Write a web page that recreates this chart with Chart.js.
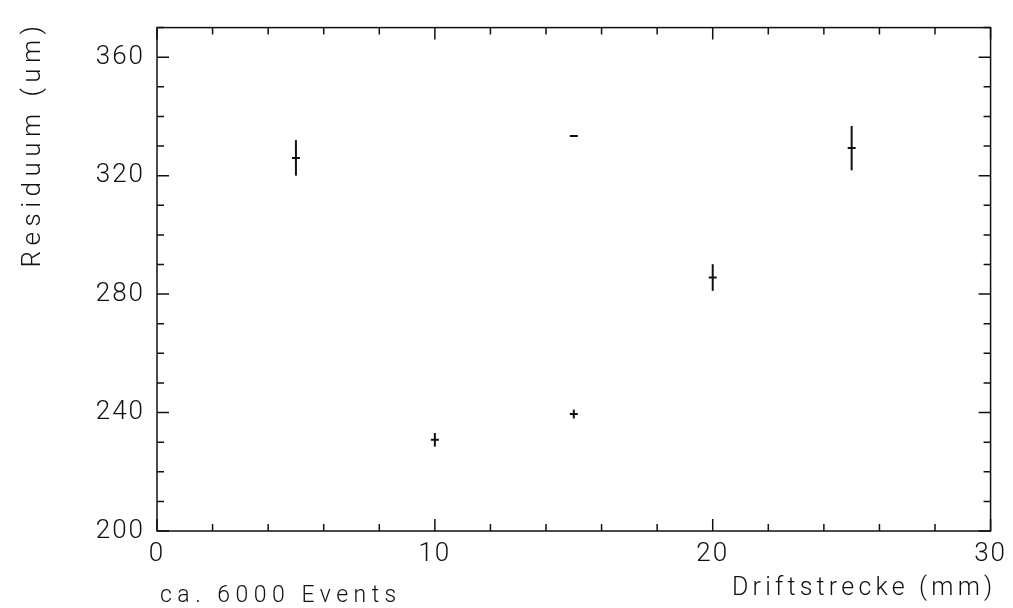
<!DOCTYPE html>
<html>
<head>
<meta charset="utf-8">
<script src="https://cdn.jsdelivr.net/npm/chart.js@4.4.1/dist/chart.umd.min.js"></script>
<style>
  html, body { margin: 0; padding: 0; background: #fff; }
  #wrap { width: 1013px; height: 608px; }
</style>
</head>
<body>
<div id="wrap"><canvas id="residuum"></canvas></div>
<script>
// Messwerte: Driftstrecke (mm), Residuum (um) und Fehler
const drift = [5, 10, 15, 15, 20, 25];
const residuum = [326, 230.8, 333.4, 239.5, 285.6, 329.3];
const fehler = [6, 2.3, 0.3, 1.5, 4.5, 7.5];

const FONT = 'Roboto';
const INK = '#111';

// Fehlerbalken, Rahmen und Ticks nach innen
const frame = {
  id: 'frame',
  beforeDraw(chart) {
    // etwas breitere Schrift wie im Original
    chart.ctx.letterSpacing = '2px';
  },
  afterDatasetsDraw(chart) {
    const ctx = chart.ctx;
    const a = chart.chartArea;
    const x = chart.scales.x;
    const y = chart.scales.y;
    ctx.save();
    ctx.strokeStyle = INK;
    ctx.lineWidth = 2;
    // Fehlerbalken
    drift.forEach((d, i) => {
      const px = x.getPixelForValue(d);
      ctx.beginPath();
      ctx.moveTo(px, y.getPixelForValue(residuum[i] + fehler[i]));
      ctx.lineTo(px, y.getPixelForValue(residuum[i] - fehler[i]));
      ctx.stroke();
    });
    // Rahmen
    ctx.lineWidth = 1.5;
    ctx.strokeRect(a.left, a.top, a.right - a.left, a.bottom - a.top);
    // Ticks
    x.ticks.forEach(t => {
      const px = x.getPixelForValue(t.value);
      const len = t.value % 10 === 0 ? 12 : 7;
      ctx.beginPath();
      ctx.moveTo(px, a.bottom); ctx.lineTo(px, a.bottom - len);
      ctx.moveTo(px, a.top); ctx.lineTo(px, a.top + len);
      ctx.stroke();
    });
    y.ticks.forEach(t => {
      const py = y.getPixelForValue(t.value);
      const len = t.value % 40 === 0 ? 12 : 7;
      ctx.beginPath();
      ctx.moveTo(a.left, py); ctx.lineTo(a.left + len, py);
      ctx.moveTo(a.right, py); ctx.lineTo(a.right - len, py);
      ctx.stroke();
    });
    // Texte
    ctx.fillStyle = INK;
    ctx.textBaseline = 'alphabetic';
    ctx.textAlign = 'left';
    ctx.font = '300 23px ' + FONT;
    ctx.letterSpacing = '5.5px';
    ctx.fillText('ca. 6000 Events', a.left + 3, 602);
    ctx.font = '300 25px ' + FONT;
    ctx.letterSpacing = '4.2px';
    ctx.textAlign = 'left';
    ctx.fillText('Driftstrecke (mm)', 732, 595);
    ctx.translate(40, 144);
    ctx.rotate(-Math.PI / 2);
    ctx.textAlign = 'center';
    ctx.font = '300 26px ' + FONT;
    ctx.letterSpacing = '5.5px';
    ctx.fillText('Residuum (um)', 0, 0);
    ctx.restore();
  }
};

new Chart(document.getElementById('residuum'), {
  type: 'scatter',
  data: {
    datasets: [{
      label: 'Residuum',
      data: drift.map((d, i) => ({x: d, y: residuum[i]})),
      pointStyle: 'line',
      radius: 4,
      hoverRadius: 4,
      borderWidth: 2,
      borderColor: INK,
      backgroundColor: INK,
    }],
  },
  options: {
    responsive: true,
    maintainAspectRatio: false,
    animation: false,
    layout: {padding: {left: 0, right: 20, top: 20, bottom: 0}},
    plugins: {
      legend: {display: false},
      tooltip: {enabled: false},
    },
    scales: {
      x: {
        type: 'linear',
        min: 0,
        max: 30,
        afterFit: s => { s.height = 77; },
        grid: {display: false, drawTicks: false},
        border: {display: false},
        ticks: {
          stepSize: 2,
          autoSkip: false,
          maxRotation: 0,
          padding: 8,
          color: INK,
          font: {family: FONT, size: 26, weight: '300'},
          callback: v => (v % 10 === 0 ? v : ''),
        },
      },
      y: {
        min: 200,
        max: 370,
        afterFit: s => { s.width = 157; },
        grid: {display: false, drawTicks: false},
        border: {display: false},
        ticks: {
          stepSize: 10,
          autoSkip: false,
          padding: 12,
          color: INK,
          font: {family: FONT, size: 26, weight: '300'},
          callback: v => (v % 40 === 0 ? v : ''),
        },
      },
    },
  },
  plugins: [frame],
});
</script>
</body>
</html>
